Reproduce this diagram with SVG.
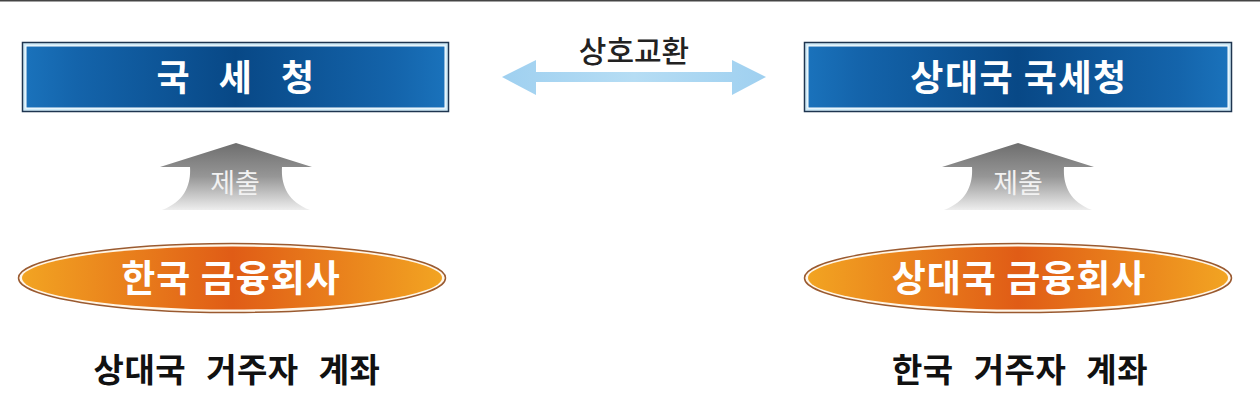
<svg xmlns="http://www.w3.org/2000/svg" width="1260" height="412" viewBox="0 0 1260 412">
<style>
.kr{font-family:"Noto Sans CJK KR","Noto Sans CJK SC",sans-serif;}
.boxt{fill:#ffffff;font-weight:bold;font-size:36px;text-anchor:middle;letter-spacing:1.5px;}
.ellt{fill:#ffffff;font-weight:bold;font-size:37px;text-anchor:middle;letter-spacing:1px;}
.acct{fill:#111111;font-weight:bold;font-size:33px;text-anchor:middle;letter-spacing:0.5px;word-spacing:12px;}
.upt{fill:#f2f2f2;font-size:27px;text-anchor:middle;}
.ex{fill:#222222;font-size:30px;font-weight:500;text-anchor:middle;}
</style>
<defs>
<linearGradient id="blue" x1="0" y1="0" x2="1" y2="0">
<stop offset="0" stop-color="#1a72bb"/>
<stop offset="0.12" stop-color="#1464ab"/>
<stop offset="0.5" stop-color="#084886"/>
<stop offset="0.88" stop-color="#1464ab"/>
<stop offset="1" stop-color="#1a72bb"/>
</linearGradient>
<linearGradient id="orange" x1="0" y1="0" x2="1" y2="0">
<stop offset="0" stop-color="#f2a422"/>
<stop offset="0.5" stop-color="#e05c16"/>
<stop offset="1" stop-color="#f2a422"/>
</linearGradient>
<linearGradient id="gray" x1="0" y1="0" x2="0" y2="1">
<stop offset="0" stop-color="#6e6e6e"/>
<stop offset="0.5" stop-color="#969696"/>
<stop offset="1" stop-color="#eeeeee"/>
</linearGradient>
<linearGradient id="lblue" x1="0" y1="0" x2="1" y2="0">
<stop offset="0" stop-color="#9fd0f0"/>
<stop offset="0.5" stop-color="#b6ddf4"/>
<stop offset="1" stop-color="#9fd0f0"/>
</linearGradient>
<path id="uparrow" d="M0,0 L76,24 L46,24 C45,40 50,58 74,67 L-74,67 C-50,58 -45,40 -46,24 L-76,24 Z" fill="url(#gray)"/>
</defs>
<rect x="0" y="0" width="1260" height="412" fill="#ffffff"/>
<rect x="0" y="0" width="1260" height="1.5" fill="#444444"/>

<g id="nts">
<rect x="22.5" y="42.5" width="426" height="69" fill="#cfeaf7" stroke="#1e3550" stroke-width="1.5"/>
<rect x="26" y="46" width="419" height="62" fill="url(#blue)" stroke="#ffffff" stroke-width="1"/>
<text class="kr boxt" x="236" y="91" style="word-spacing:18px">국 세 청</text>
</g>

<g id="foreign-nts">
<rect x="804.5" y="42.5" width="427" height="69" fill="#cfeaf7" stroke="#1e3550" stroke-width="1.5"/>
<rect x="808" y="46" width="420" height="62" fill="url(#blue)" stroke="#ffffff" stroke-width="1"/>
<text class="kr boxt" x="1019" y="91">상대국 국세청</text>
</g>

<g id="kr-fin">
<ellipse cx="232" cy="278" rx="213.5" ry="34.5" fill="#fff6e8" stroke="#9a5a30" stroke-width="1.5"/>
<ellipse cx="232" cy="278" rx="210" ry="31.5" fill="url(#orange)"/>
<text class="kr ellt" x="231" y="292">한국 금융회사</text>
</g>

<g id="foreign-fin">
<ellipse cx="1018" cy="278" rx="213.5" ry="34.5" fill="#fff6e8" stroke="#9a5a30" stroke-width="1.5"/>
<ellipse cx="1018" cy="278" rx="210" ry="31.5" fill="url(#orange)"/>
<text class="kr ellt" x="1019" y="292">상대국 금융회사</text>
</g>

<g id="acct-left">
<text class="kr acct" x="237" y="382">상대국 거주자 계좌</text>
</g>
<g id="acct-right">
<text class="kr acct" x="1020" y="382">한국 거주자 계좌</text>
</g>

<g id="connectors">
<g id="submit-left">
<use href="#uparrow" x="236" y="143"/>
<text class="kr upt" x="235" y="193">제출</text>
</g>
<g id="submit-right">
<use href="#uparrow" x="1018" y="143"/>
<text class="kr upt" x="1018" y="193">제출</text>
</g>
<g id="exchange">
<path d="M502,77 L536,60 L536,72 L732,72 L732,60 L766,77 L732,95 L732,82 L536,82 L536,95 Z" fill="url(#lblue)"/>
<text class="kr ex" x="634" y="62">상호교환</text>
</g>
</g>
</svg>
